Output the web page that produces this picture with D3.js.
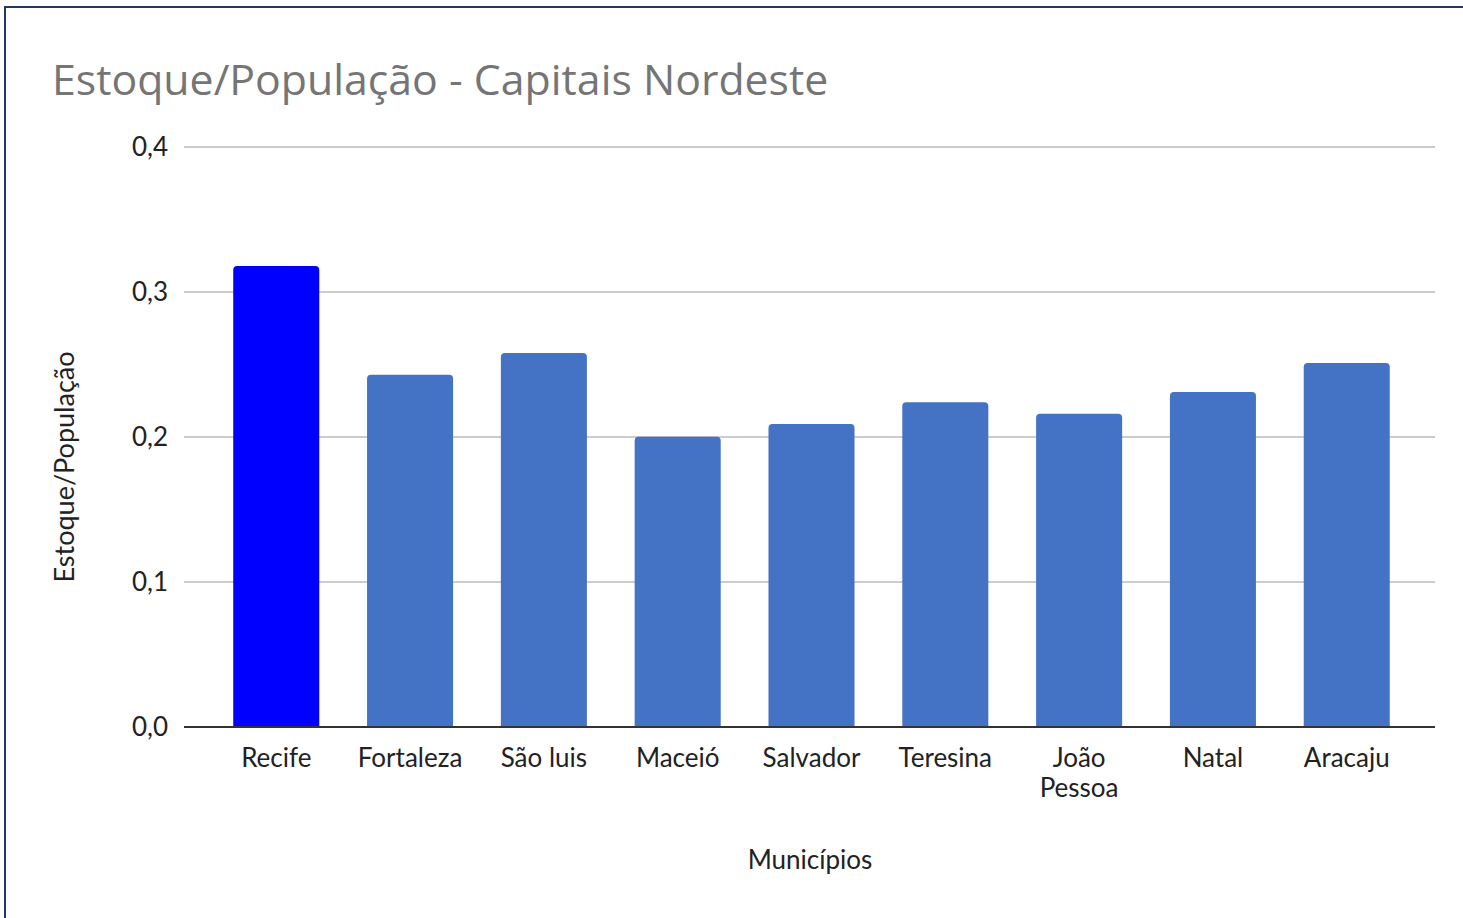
<!DOCTYPE html>
<html>
<head>
<meta charset="utf-8">
<script src="https://cdn.jsdelivr.net/npm/d3@7"></script>
<style>
  html, body { margin: 0; padding: 0; background: #fff; }
  svg { display: block; }
</style>
</head>
<body>
<svg id="chart" width="1463" height="918"></svg>
<script>
const categories = ["Recife", "Fortaleza", "São luis", "Maceió", "Salvador", "Teresina", "João Pessoa", "Natal", "Aracaju"];
const values = [0.318, 0.243, 0.258, 0.2002, 0.209, 0.224, 0.216, 0.231, 0.251];
const barColors = ["#0000FF", "#4472C4", "#4472C4", "#4472C4", "#4472C4", "#4472C4", "#4472C4", "#4472C4", "#4472C4"];
const yTicks = [0, 0.1, 0.2, 0.3, 0.4];
const titleText = "Estoque/População - Capitais Nordeste";
const xTitle = "Municípios";
const yTitle = "Estoque/População";

const svg = d3.select("#chart");
const W = 1463, H = 918;
const plot = { left: 184, right: 1435, top: 147, bottom: 727 };

svg.append("rect").attr("width", W).attr("height", H).attr("fill", "#fff");
// outer frame (only top and left edges visible in the reference)
svg.append("rect").attr("x", 5).attr("y", 7).attr("width", W + 20).attr("height", H + 20)
  .attr("fill", "none").attr("stroke", "#1F3864").attr("stroke-width", 2);

const x = d3.scaleBand().domain(categories).range([plot.left + 2, plot.right + 2])
  .paddingInner(0.357).paddingOuter(0.353);
const y = d3.scaleLinear().domain([0, 0.4]).range([plot.bottom, plot.top]);

// title
svg.append("text").attr("x", 52).attr("y", 95)
  .attr("font-family", "'Open Sans', sans-serif").attr("font-size", 42.8)
  .attr("fill", "#757575").text(titleText);

// gridlines
svg.append("g").selectAll("line").data(yTicks.filter(d => d > 0)).join("line")
  .attr("x1", plot.left).attr("x2", plot.right)
  .attr("y1", d => y(d)).attr("y2", d => y(d))
  .attr("stroke", "#CCCCCC").attr("stroke-width", 2);

// y axis labels
const yAxis = d3.axisLeft(y).tickValues(yTicks).tickSize(0).tickPadding(16)
  .tickFormat(d => d3.format(".1f")(d).replace(".", ","));
const gy = svg.append("g").attr("transform", `translate(${plot.left},0)`).call(yAxis);
gy.select(".domain").remove();
gy.selectAll("text").attr("font-family", "Lato, sans-serif").attr("font-size", 26).attr("fill", "#222");

// bars with rounded top corners
const r = 4;
function barPath(d, i) {
  const x0 = x(categories[i]), w = x.bandwidth();
  const y0 = y(d), y1 = y(0);
  return `M${x0},${y1} L${x0},${y0 + r} Q${x0},${y0} ${x0 + r},${y0} L${x0 + w - r},${y0} Q${x0 + w},${y0} ${x0 + w},${y0 + r} L${x0 + w},${y1} Z`;
}
svg.append("g").selectAll("path").data(values).join("path")
  .attr("d", (d, i) => barPath(d, i))
  .attr("fill", (d, i) => barColors[i]);

// x axis baseline
const xAxis = d3.axisBottom(x).tickSize(0).tickPadding(0).tickFormat("");
const gx = svg.append("g").attr("transform", `translate(0,${plot.bottom})`).call(xAxis);
gx.select(".domain").attr("stroke", "#333").attr("stroke-width", 2)
  .attr("d", `M${plot.left},0H${plot.right}`);

// category labels (wrapped)
const labelG = svg.append("g");
categories.forEach(c => {
  const words = c === "João Pessoa" ? ["João", "Pessoa"] : [c];
  const t = labelG.append("text").attr("text-anchor", "middle")
    .attr("font-family", "Lato, sans-serif").attr("font-size", 26).attr("fill", "#222");
  words.forEach((w, k) => {
    t.append("tspan").attr("x", x(c) + x.bandwidth() / 2).attr("y", 767 + k * 30).text(w);
  });
});

// axis titles
svg.append("text").attr("x", 810).attr("y", 869).attr("text-anchor", "middle")
  .attr("font-family", "Lato, sans-serif").attr("font-size", 26).attr("fill", "#222").text(xTitle);
svg.append("text").attr("transform", "translate(74,467) rotate(-90)").attr("text-anchor", "middle")
  .attr("font-family", "Lato, sans-serif").attr("font-size", 27).attr("fill", "#222").text(yTitle);
</script>
</body>
</html>
